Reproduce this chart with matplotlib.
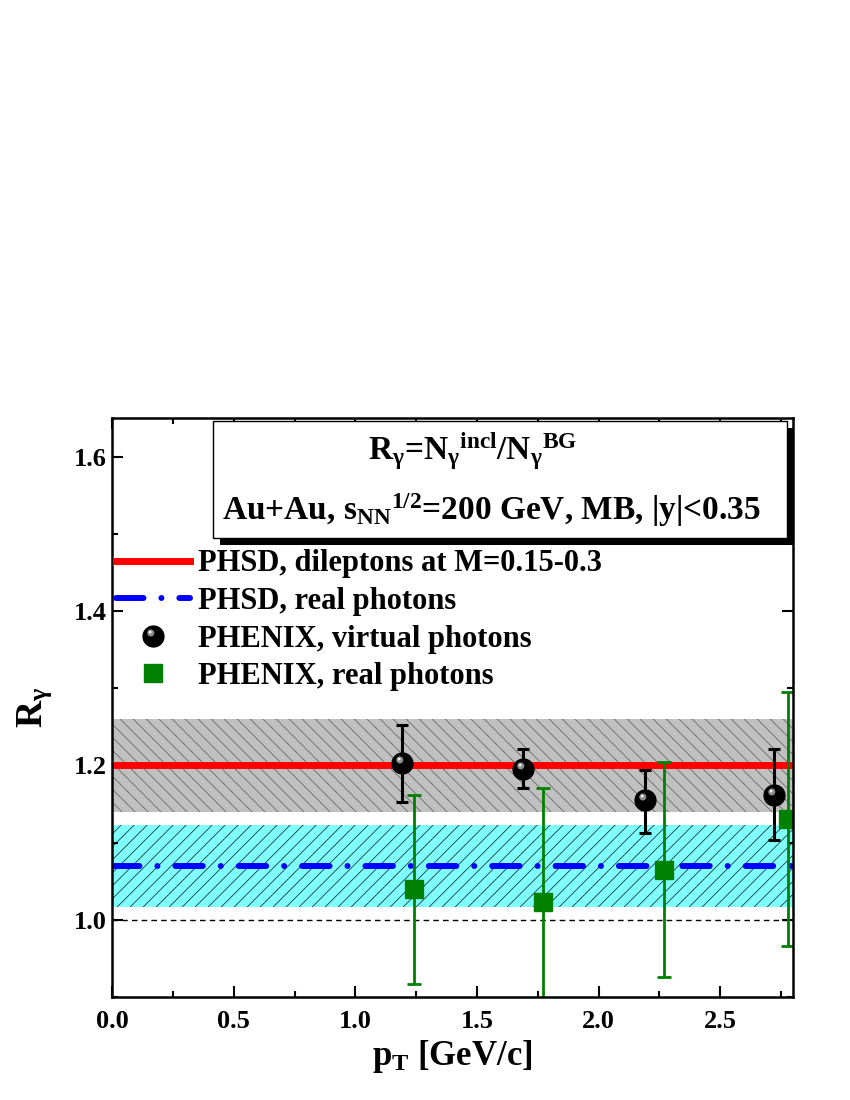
import matplotlib
matplotlib.use("Agg")
import matplotlib.pyplot as plt
import numpy as np
from matplotlib.patches import Rectangle
from matplotlib.path import Path
from matplotlib.collections import LineCollection
from matplotlib.transforms import Affine2D
from matplotlib.ticker import MultipleLocator, FormatStrFormatter
from matplotlib.legend_handler import HandlerTuple

plt.rcParams['font.family'] = ['Liberation Serif', 'DejaVu Serif']
plt.rcParams['font.weight'] = 'bold'
plt.rcParams['axes.labelweight'] = 'bold'
plt.rcParams['mathtext.fontset'] = 'custom'
plt.rcParams['mathtext.rm'] = 'Liberation Serif:bold'
plt.rcParams['mathtext.it'] = 'Liberation Serif:bold'
plt.rcParams['mathtext.bf'] = 'Liberation Serif:bold'

# PHSD bands and lines
dil_val = 1.2
dil_band = [1.14, 1.26]
real_val = 1.07
real_band = [1.017, 1.123]

# PHENIX virtual photons
pt_virt = [1.19, 1.69, 2.19, 2.72]
r_virt = [1.203, 1.196, 1.155, 1.162]
r_virt_lo = [1.153, 1.171, 1.113, 1.104]
r_virt_hi = [1.253, 1.221, 1.194, 1.221]

# PHENIX real photons
pt_real = [1.24, 1.77, 2.27, 2.78]
r_real = [1.040, 1.023, 1.064, 1.131]
r_real_lo = [0.917, 0.85, 0.926, 0.966]
r_real_hi = [1.162, 1.171, 1.204, 1.295]

labels = ['PHSD, dileptons at M=0.15-0.3', 'PHSD, real photons',
          'PHENIX, virtual photons', 'PHENIX, real photons']

fig = plt.figure(figsize=(8.5, 11), dpi=100)
ax = fig.add_axes([0.132, 0.0936, 0.801, 0.5264])
ax.set_xlim(0, 2.8)
ax.set_ylim(0.9, 1.65)

# bands with hand made hatch (spacing ~13 px)
W = ax.get_position().width * fig.get_figwidth() * fig.dpi
H = ax.get_position().height * fig.get_figheight() * fig.dpi
pix = Affine2D().scale(1.0 / W, 1.0 / H) + ax.transAxes

def hatch(band, face, lcol, forward):
    sp = ax.axhspan(band[0], band[1], facecolor=face, edgecolor='none', zorder=1)
    if forward:
        segs = [[(x0, 0), (x0 + H, H)] for x0 in np.arange(-H, W, 13)]
    else:
        segs = [[(x0, 0), (x0 - H, H)] for x0 in np.arange(0, W + H, 13)]
    lc = LineCollection(segs, colors=lcol, linewidths=0.6, transform=pix, zorder=1.5)
    ax.add_collection(lc)
    lc.set_clip_path(sp)

hatch(dil_band, '#c0c0c0', '#6a6a6a', False)
hatch(real_band, '#80ffff', '#1a3a3a', True)

ax.axhline(1.0, color='k', lw=1, dashes=(4, 3), zorder=2)

x = [0, 2.8]
l1, = ax.plot(x, [dil_val, dil_val], color='red', lw=5, zorder=3)
l2, = ax.plot(x, [real_val, real_val], color='blue', lw=4.3, zorder=3,
              dashes=(4.6, 3, 0.01, 3), dash_capstyle='round')

v = np.array(r_virt)
ax.errorbar(pt_virt, r_virt, yerr=[v - np.array(r_virt_lo), np.array(r_virt_hi) - v],
            fmt='none', ecolor='black', elinewidth=2.2, capsize=4.5, capthick=2.2, zorder=4)

def spot(c, r, ms_ref):
    p = Path.circle(c, r)
    m = np.max(np.abs(p.vertices))
    return p, ms_ref * m / 0.5

ms_ball = 15
p3, = ax.plot(pt_virt, r_virt, 'o', color='black', ms=ms_ball, zorder=5)
sp1, ms1 = spot((-0.13, 0.17), 0.17, ms_ball)
sp2, ms2 = spot((-0.16, 0.21), 0.07, ms_ball)
h1, = ax.plot(pt_virt, r_virt, marker=sp1, ls='none', color='#8c8c8c', ms=ms1, mec='none', zorder=5.1)
h2, = ax.plot(pt_virt, r_virt, marker=sp2, ls='none', color='#f0f0f0', ms=ms2, mec='none', zorder=5.2)

g = np.array(r_real)
ax.errorbar(pt_real, r_real, yerr=[g - np.array(r_real_lo), np.array(r_real_hi) - g],
            fmt='none', ecolor='green', elinewidth=2, capsize=4.8, capthick=2, zorder=6)
p4, = ax.plot(pt_real, r_real, 's', color='green', ms=12.5, zorder=7)

ax.xaxis.set_major_locator(MultipleLocator(0.5))
ax.xaxis.set_minor_locator(MultipleLocator(0.25))
ax.yaxis.set_major_locator(MultipleLocator(0.2))
ax.yaxis.set_minor_locator(MultipleLocator(0.1))
ax.tick_params(which='both', direction='in', top=True, right=True, width=1.5, labelsize=19)
ax.tick_params(which='major', length=8)
ax.tick_params(which='minor', length=4.5)
ax.tick_params(axis='x', pad=9)
ax.tick_params(axis='y', pad=4)
for s in ax.spines.values():
    s.set_linewidth(1.8)
    s.set_zorder(10)
ax.xaxis.set_major_formatter(FormatStrFormatter('%.1f'))
ax.yaxis.set_major_formatter(FormatStrFormatter('%.1f'))

ax.set_xlabel(r'p$_{\mathrm{T}}$ [GeV/c]', fontsize=25, labelpad=4)
ax.set_ylabel(r'R$_{\gamma}$', fontsize=27, labelpad=14)

leg = ax.legend(handles=[l1, l2, (p3, h1, h2), p4], labels=labels,
                handler_map={tuple: HandlerTuple(ndivide=1)},
                loc='upper left', bbox_to_anchor=(0.006, 0.773), borderpad=0,
                borderaxespad=0, frameon=False, fontsize=22, handlelength=2.4,
                handletextpad=0.26, labelspacing=0.28)
leg.set_zorder(12)

# text box with shadow
bx, by, bw, bh = 0.148, 0.793, 0.843, 0.202
ax.add_patch(Rectangle((bx + 0.0105, by - 0.0125), bw, bh, transform=ax.transAxes,
                       facecolor='black', edgecolor='none', zorder=8, clip_on=False))
ax.add_patch(Rectangle((bx, by), bw, bh, transform=ax.transAxes,
                       facecolor='white', edgecolor='black', lw=1, zorder=9, clip_on=False))
ax.text(0.529, 0.927,
        r'R$_{\gamma}$=N$_{\gamma}{}^{\mathrm{incl}}$/N$_{\gamma}{}^{\mathrm{BG}}$',
        transform=ax.transAxes, ha='center', va='baseline', fontsize=24, zorder=11)
ax.text(0.557, 0.824, r'Au+Au, s$_{\mathrm{NN}}{}^{1/2}$=200 GeV, MB, |y|<0.35',
        transform=ax.transAxes, ha='center', va='baseline', fontsize=24, zorder=11)

fig.savefig('out.png', dpi=100)
